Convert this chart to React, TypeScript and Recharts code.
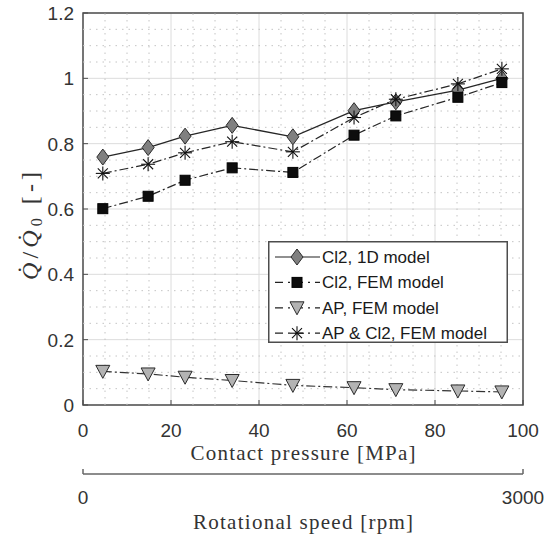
import React from 'react';
import {
  LineChart,
  Line,
  XAxis,
  YAxis,
  CartesianGrid,
  ReferenceLine,
  ReferenceArea,
  Legend,
} from 'recharts';

// ---- data ----
const contactPressure = [4.5, 14.8, 23.2, 33.9, 47.7, 61.6, 71.1, 85.2, 95.2];
const cl2OneD = [0.759, 0.788, 0.823, 0.856, 0.821, 0.901, 0.928, 0.964, 1.0];
const cl2Fem = [0.601, 0.639, 0.688, 0.726, 0.712, 0.826, 0.885, 0.942, 0.987];
const apFem = [0.103, 0.095, 0.085, 0.075, 0.06, 0.053, 0.047, 0.043, 0.04];
const apCl2Fem = [0.709, 0.737, 0.772, 0.806, 0.775, 0.88, 0.936, 0.983, 1.029];

const seriesNames = ['Cl2, 1D model', 'Cl2, FEM model', 'AP, FEM model', 'AP & Cl2, FEM model'];

const xTicks = [0, 20, 40, 60, 80, 100];
const yTicks = [0, 0.2, 0.4, 0.6, 0.8, 1, 1.2];
const xMinor = [5, 10, 15, 25, 30, 35, 45, 50, 55, 65, 70, 75, 85, 90, 95];
const yMinor = [0.05, 0.1, 0.15, 0.25, 0.3, 0.35, 0.45, 0.5, 0.55, 0.65, 0.7, 0.75, 0.85, 0.9, 0.95, 1.05, 1.1, 1.15];
const rpmTicks = [0, 3000];
const rpmMax = 3000; // rotational speed spanning the full pressure axis

const data = contactPressure.map((x, i) => ({
  x,
  cl2OneD: cl2OneD[i],
  cl2Fem: cl2Fem[i],
  apFem: apFem[i],
  apCl2Fem: apCl2Fem[i],
}));

const SANS = "'Liberation Sans', Arial, sans-serif";
const SERIF = "'Liberation Serif', 'Times New Roman', serif";
const TICK_COLOR = '#333';
const BOX = '#4d4d4d';
const DASHDOT = '9 3 2 3';

// ---- markers ----
const Diamond = ({ cx, cy }: { cx: number; cy: number }) => (
  <polygon
    points={`${cx},${cy - 8} ${cx + 6},${cy} ${cx},${cy + 8} ${cx - 6},${cy}`}
    fill="#808080"
    stroke="#2b2b2b"
    strokeWidth={1}
  />
);
const Square = ({ cx, cy }: { cx: number; cy: number }) => (
  <rect x={cx - 5} y={cy - 5} width={10} height={10} fill="#0d0d0d" stroke="#000" strokeWidth={1} />
);
const TriDown = ({ cx, cy }: { cx: number; cy: number }) => (
  <polygon
    points={`${cx - 7},${cy - 6} ${cx + 7},${cy - 6} ${cx},${cy + 7}`}
    fill="#b3b3b3"
    stroke="#2b2b2b"
    strokeWidth={1}
  />
);
const Star = ({ cx, cy }: { cx: number; cy: number }) => (
  <g stroke="#111" strokeWidth={1.1}>
    <line x1={cx - 7} x2={cx + 7} y1={cy} y2={cy} />
    <line x1={cx} x2={cx} y1={cy - 7} y2={cy + 7} />
    <line x1={cx - 5} x2={cx + 5} y1={cy - 5} y2={cy + 5} />
    <line x1={cx - 5} x2={cx + 5} y1={cy + 5} y2={cy - 5} />
  </g>
);

const markerDot = (Shape: React.FC<{ cx: number; cy: number }>) => (props: any) => {
  const { cx, cy, index } = props;
  if (cx == null || cy == null) return <g key={`m-${index}`} />;
  return (
    <g key={`m-${index}`}>
      <Shape cx={cx} cy={cy} />
    </g>
  );
};

// ---- ticks ----
const XTick = (props: any) => {
  const { x, y, payload } = props;
  return (
    <g>
      <line x1={x} x2={x} y1={y} y2={y - 5} stroke={BOX} strokeWidth={1} />
      <text x={x} y={y + 32} textAnchor="middle" fontFamily={SANS} fontSize={19} fill={TICK_COLOR}>
        {payload.value}
      </text>
    </g>
  );
};
const YTick = (props: any) => {
  const { x, y, payload } = props;
  return (
    <g>
      <line x1={x} x2={x + 5} y1={y} y2={y} stroke={BOX} strokeWidth={1} />
      <text x={x - 9} y={y + 7} textAnchor="end" fontFamily={SANS} fontSize={19} fill={TICK_COLOR}>
        {String(payload.value)}
      </text>
    </g>
  );
};
const TopTick = (props: any) => {
  const { x, y } = props;
  return <line x1={x} x2={x} y1={y} y2={y + 5} stroke={BOX} strokeWidth={1} />;
};
const RightTick = (props: any) => {
  const { x, y } = props;
  return <line x1={x} x2={x - 5} y1={y} y2={y} stroke={BOX} strokeWidth={1} />;
};

// ---- bottom titles + secondary rotational-speed axis, laid out in the x-axis box ----
const BottomAxisTitles = (props: any) => {
  const vb = props.viewBox && props.viewBox.width ? props.viewBox : { x: 83, y: 405, width: 440, height: 130 };
  const cx = vb.x + vb.width / 2;
  const lineY = vb.y + 69;
  return (
    <g>
      <text x={cx} y={vb.y + 55} textAnchor="middle" fontFamily={SERIF} fontSize={21} fill="#333" textLength={225} lengthAdjust="spacing">
        Contact pressure [MPa]
      </text>
      <line x1={vb.x} x2={vb.x + vb.width} y1={lineY} y2={lineY} stroke="#666" strokeWidth={1.5} />
      {rpmTicks.map((r) => {
        const tx = vb.x + (r / rpmMax) * vb.width;
        return (
          <g key={`rpm${r}`}>
            <line x1={tx} x2={tx} y1={lineY} y2={lineY - 5} stroke="#666" strokeWidth={1.5} />
            <text x={tx} y={lineY + 30} textAnchor="middle" fontFamily={SANS} fontSize={19} fill={TICK_COLOR}>
              {r}
            </text>
          </g>
        );
      })}
      <text x={cx} y={vb.y + 124} textAnchor="middle" fontFamily={SERIF} fontSize={21} fill="#333" textLength={220} lengthAdjust="spacing">
        Rotational speed [rpm]
      </text>
    </g>
  );
};

const YTitle = () => (
  <text
    x={0}
    y={0}
    transform="translate(38,226) rotate(-90)"
    textAnchor="middle"
    fontFamily={SERIF}
    fontSize={24}
    fill="#333"
    textLength={108}
    lengthAdjust="spacing"
  >
    <tspan fontStyle="italic">{'Q\u0307'}</tspan>
    <tspan>/</tspan>
    <tspan fontStyle="italic">{'Q\u0307'}</tspan>
    <tspan fontSize={16} dy={4}>0</tspan>
    <tspan dy={-4}> [-]</tspan>
  </text>
);

// ---- legend ----
const legendRows = [
  { name: seriesNames[0], Shape: Diamond, dash: undefined as string | undefined },
  { name: seriesNames[1], Shape: Square, dash: DASHDOT },
  { name: seriesNames[2], Shape: TriDown, dash: DASHDOT },
  { name: seriesNames[3], Shape: Star, dash: DASHDOT },
];
const LegendBox = () => (
  <svg width={240} height={102} style={{ display: 'block' }}>
    <rect x={0.75} y={0.75} width={238.5} height={100.5} fill="#fff" stroke={BOX} strokeWidth={1.5} />
    {legendRows.map((r, i) => {
      const cy = 16 + i * 25.4;
      return (
        <g key={r.name}>
          <line x1={7} x2={52} y1={cy} y2={cy} stroke="#222" strokeWidth={1.2} strokeDasharray={r.dash ? '8 5 2 5' : undefined} />
          <r.Shape cx={29} cy={cy} />
          <text x={54} y={cy + 6} fontFamily={SANS} fontSize={17} fill="#1a1a1a">
            {r.name}
          </text>
        </g>
      );
    })}
  </svg>
);

export default function App() {
  return (
    <div style={{ position: 'absolute', left: 0, top: 0, width: 555, height: 535, background: '#fff' }}>
      <LineChart width={555} height={535} data={data} margin={{ top: 13, right: 32, bottom: 0, left: 0 }}>
        <CartesianGrid stroke="#dcdcdc" strokeWidth={1} />
        {xMinor.map((v) => (
          <ReferenceLine key={`xm${v}`} x={v} stroke="#c4c4c4" strokeWidth={1} strokeDasharray="1.5 5" ifOverflow="hidden" />
        ))}
        {yMinor.map((v) => (
          <ReferenceLine key={`ym${v}`} y={v} stroke="#c4c4c4" strokeWidth={1} strokeDasharray="1.5 5" ifOverflow="hidden" />
        ))}
        <XAxis
          dataKey="x"
          type="number"
          domain={[0, 100]}
          ticks={xTicks}
          height={130}
          axisLine={false}
          tickLine={false}
          tickSize={0}
          tickMargin={0}
          tick={<XTick />}
          interval={0}
          label={<BottomAxisTitles />}
        />
        <XAxis
          xAxisId="top"
          orientation="top"
          type="number"
          domain={[0, 100]}
          ticks={xTicks}
          height={0}
          axisLine={false}
          tickLine={false}
          tickSize={0}
          tickMargin={0}
          tick={<TopTick />}
          interval={0}
          allowDataOverflow
        />
        <YAxis
          type="number"
          domain={[0, 1.2]}
          ticks={yTicks}
          width={83}
          axisLine={false}
          tickLine={false}
          tickSize={0}
          tickMargin={0}
          tick={<YTick />}
          interval={0}
          allowDataOverflow
          label={<YTitle />}
        />
        <YAxis
          yAxisId="right"
          orientation="right"
          type="number"
          domain={[0, 1.2]}
          ticks={yTicks}
          width={0}
          axisLine={false}
          tickLine={false}
          tickSize={0}
          tickMargin={0}
          tick={<RightTick />}
          interval={0}
          allowDataOverflow
        />
        <ReferenceArea x1={0} x2={100} y1={0} y2={1.2} fill="none" stroke={BOX} strokeWidth={1.5} fillOpacity={0} ifOverflow="visible" />
        <Line
          dataKey="cl2OneD"
          name={seriesNames[0]}
          stroke="#262626"
          strokeWidth={1.3}
          dot={markerDot(Diamond)}
          activeDot={false}
          isAnimationActive={false}
        />
        <Line
          dataKey="cl2Fem"
          name={seriesNames[1]}
          stroke="#262626"
          strokeWidth={1.2}
          strokeDasharray={DASHDOT}
          dot={markerDot(Square)}
          activeDot={false}
          isAnimationActive={false}
        />
        <Line
          dataKey="apFem"
          name={seriesNames[2]}
          stroke="#333"
          strokeWidth={1.2}
          strokeDasharray={DASHDOT}
          dot={markerDot(TriDown)}
          activeDot={false}
          isAnimationActive={false}
        />
        <Line
          dataKey="apCl2Fem"
          name={seriesNames[3]}
          stroke="#262626"
          strokeWidth={1.2}
          strokeDasharray={DASHDOT}
          dot={markerDot(Star)}
          activeDot={false}
          isAnimationActive={false}
        />
        <Legend
          layout="vertical"
          align="center"
          verticalAlign="middle"
          wrapperStyle={{ position: 'absolute', left: 268, top: 241, width: 240, height: 102 }}
          content={() => <LegendBox />}
        />
      </LineChart>
    </div>
  );
}
